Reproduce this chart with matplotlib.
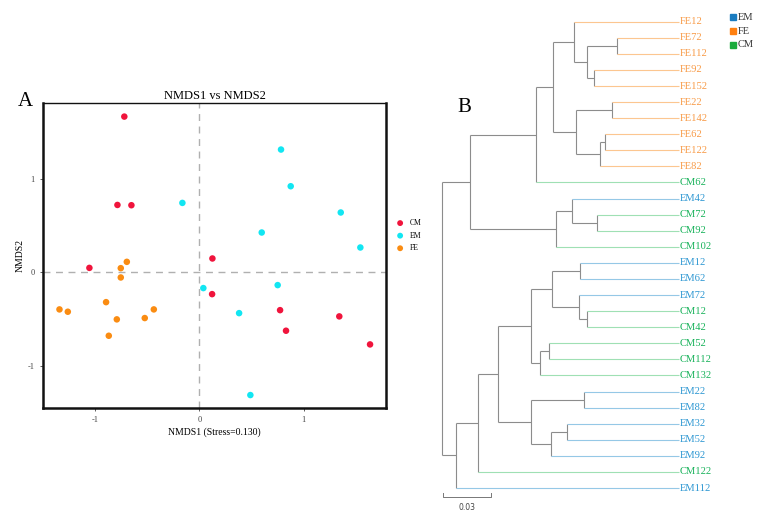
import matplotlib
matplotlib.use("Agg")
import matplotlib.pyplot as plt

plt.rcParams["font.family"] = ["Liberation Serif", "DejaVu Serif"]
plt.rcParams["axes.unicode_minus"] = False

# ---- panel A: NMDS scores ----
CM_X = [-0.72, -0.786, -0.652, -1.055, 0.125, 0.122, 0.774, 0.831, 1.342, 1.637]
CM_Y = [1.674, 0.725, 0.722, 0.049, 0.150, -0.233, -0.405, -0.626, -0.472, -0.773]
EM_X = [-0.163, 0.783, 0.876, 1.356, 0.598, 1.544, 0.038, 0.751, 0.381, 0.489]
EM_Y = [0.747, 1.320, 0.926, 0.644, 0.429, 0.268, -0.168, -0.136, -0.437, -1.317]
FE_X = [-0.696, -0.754, -0.754, -0.895, -1.342, -1.262, -0.792, -0.869, -0.524, -0.437]
FE_Y = [0.114, 0.046, -0.054, -0.319, -0.397, -0.422, -0.504, -0.680, -0.490, -0.397]
STRESS = 0.130

# ---- panel B: UPGMA tree (depth from root, same units as scale bar) ----
LEAVES = ["FE12", "FE72", "FE112", "FE92", "FE152", "FE22", "FE142", "FE62", "FE122", "FE82",
          "CM62", "EM42", "CM72", "CM92", "CM102", "EM12", "EM62", "EM72", "CM12", "CM42",
          "CM52", "CM112", "CM132", "EM22", "EM82", "EM32", "EM52", "EM92", "CM122", "EM112"]
LEAF_DEPTH = 0.1503
# (node, child1, child2, depth)
MERGES = [
    ("n1", "FE72", "FE112", 0.1106), ("n2", "FE92", "FE152", 0.0964),
    ("n3", "n1", "n2", 0.0916), ("n4", "FE12", "n3", 0.0837),
    ("n5", "FE22", "FE142", 0.1074), ("n6", "FE62", "FE122", 0.1034),
    ("n7", "n6", "FE82", 0.1002), ("n8", "n5", "n7", 0.0850),
    ("n9", "n4", "n8", 0.0704), ("n10", "n9", "CM62", 0.0592),
    ("n11", "CM72", "CM92", 0.0979), ("n12", "EM42", "n11", 0.0824),
    ("n13", "n12", "CM102", 0.0720), ("n14", "n10", "n13", 0.0175),
    ("n15", "EM12", "EM62", 0.0873), ("n16", "CM12", "CM42", 0.0916),
    ("n17", "EM72", "n16", 0.0865), ("n18", "n15", "n17", 0.0694),
    ("n19", "CM52", "CM112", 0.0679), ("n20", "n19", "CM132", 0.0621),
    ("n21", "n18", "n20", 0.0562), ("n22", "EM22", "EM82", 0.0897),
    ("n23", "EM32", "EM52", 0.0793), ("n24", "n23", "EM92", 0.0689),
    ("n25", "n22", "n24", 0.0562), ("n26", "n21", "n25", 0.0351),
    ("n27", "n26", "CM122", 0.0224), ("n28", "n27", "EM112", 0.0087),
    ("root", "n14", "n28", 0.0),
]
SCALE = 0.03

PT_COL = {"CM": "#f0143c", "EM": "#12e6f2", "FE": "#fa8c12"}
BR_COL = {"EM": "#95c8e6", "FE": "#fcc690", "CM": "#9fe0b4"}
TX_COL = {"EM": "#2b96d2", "FE": "#f89a46", "CM": "#18b25a"}
KEY_COL = {"EM": "#1a7cc0", "FE": "#ff8010", "CM": "#1aab3c"}

fig = plt.figure(figsize=(7.66, 5.21), dpi=100)

# panel A
ax = fig.add_axes([43 / 766, 1 - 408 / 521, 343 / 766, 305 / 521])
ax.axhline(0, color="#b0b0b0", ls=(0, (5, 4)), lw=1, zorder=1)
ax.axvline(0, color="#b0b0b0", ls=(0, (5, 4)), lw=1, zorder=1)
for g, xs, ys in [("CM", CM_X, CM_Y), ("EM", EM_X, EM_Y), ("FE", FE_X, FE_Y)]:
    ax.scatter(xs, ys, s=22, color=PT_COL[g], edgecolors="none", label=g, zorder=3)
ax.set_xlim(-1.50, 1.79)
ax.set_ylim(-1.456, 1.82)
ax.set_xticks([-1, 0, 1])
ax.set_yticks([-1, 0, 1])
ax.tick_params(labelsize=6, length=2.5, width=0.6, colors="#444444")
for s in ax.spines.values():
    s.set_linewidth(1.8)
    s.set_color("#111111")
ax.spines["top"].set_linewidth(1.0)
ax.set_title("NMDS1 vs NMDS2", fontsize=9, pad=3)
ax.set_xlabel(f"NMDS1 (Stress={STRESS:.3f})", fontsize=7, labelpad=2)
ax.set_ylabel("NMDS2", fontsize=7, labelpad=2)
ax.legend(loc="center left", bbox_to_anchor=(1.01, 0.565), frameon=False, fontsize=5.5,
          handletextpad=0.2, labelspacing=0.6, markerscale=0.9, borderaxespad=0)
fig.text(18 / 766, 1 - 101 / 521, "A", fontsize=15, va="center", ha="left")

# panel B
bx = fig.add_axes([420 / 766, 0, 346 / 766, 1])
bx.set_axis_off()
xmin = -22.3 / 1577
bx.set_xlim(xmin, xmin + 346 / 1577)
bx.set_ylim(29 + 33 / 16.08, -21.7 / 16.08)

pos = {name: (LEAF_DEPTH, i) for i, name in enumerate(LEAVES)}
for node, a, b, d in MERGES:
    pos[node] = (d, (pos[a][1] + pos[b][1]) / 2)
parent = {}
for node, a, b, d in MERGES:
    parent[a] = d
    parent[b] = d
    ya, yb = pos[a][1], pos[b][1]
    bx.plot([d, d], [ya, yb], color="#8c8c8c", lw=0.8, solid_capstyle="butt")
for name, pd_ in parent.items():
    x, y = pos[name]
    col = BR_COL[name[:2]] if name in LEAVES else "#8c8c8c"
    bx.plot([pd_, x], [y, y], color=col, lw=0.8, solid_capstyle="butt")
for i, name in enumerate(LEAVES):
    bx.text(LEAF_DEPTH + 0.0004, i, name, color=TX_COL[name[:2]], fontsize=7.6,
            va="center", ha="left")

# scale bar
sy = 29 + (496.7 - 488) / 16.08
bx.plot([0.0007, 0.0007, 0.0007 + SCALE, 0.0007 + SCALE], [sy - 0.2, sy, sy, sy - 0.2],
        color="#777777", lw=0.7)
bx.text(0.0007 + SCALE / 2, sy + 0.65, f"{SCALE:.2f}", fontsize=5.5, ha="center", va="center",
        color="#444444", family="DejaVu Sans")

# group key
for k, g in enumerate(["EM", "FE", "CM"]):
    ky = 1 - (17.3 + k * 13.7) / 521
    fig.patches.append(plt.Rectangle((729.5 / 766, ky - 3 / 521), 6 / 766, 6 / 521,
                                     transform=fig.transFigure, color=KEY_COL[g]))
    fig.text(737.5 / 766, ky, g, fontsize=7.5, va="center", ha="left", color="#333333")
fig.text(457 / 766, 1 - 107 / 521, "B", fontsize=15, va="center", ha="left")

fig.savefig("out.png", dpi=100)
